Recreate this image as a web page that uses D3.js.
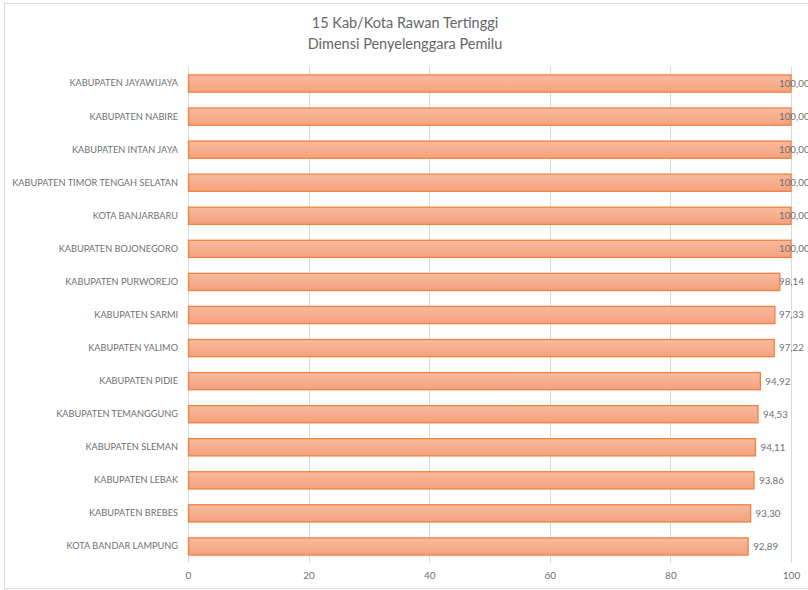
<!DOCTYPE html>
<html>
<head>
<meta charset="utf-8">
<script src="https://cdn.jsdelivr.net/npm/d3@7"></script>
<style>
  body { margin: 0; background: #fff; }
  text { font-family: Lato, "Open Sans", sans-serif; }
</style>
</head>
<body>
<div id="chart"></div>
<script>
// data
var regions = [
  "KABUPATEN JAYAWIJAYA", "KABUPATEN NABIRE", "KABUPATEN INTAN JAYA",
  "KABUPATEN TIMOR TENGAH SELATAN", "KOTA BANJARBARU", "KABUPATEN BOJONEGORO",
  "KABUPATEN PURWOREJO", "KABUPATEN SARMI", "KABUPATEN YALIMO",
  "KABUPATEN PIDIE", "KABUPATEN TEMANGGUNG", "KABUPATEN SLEMAN",
  "KABUPATEN LEBAK", "KABUPATEN BREBES", "KOTA BANDAR LAMPUNG"
];
var scores = [100, 100, 100, 100, 100, 100, 98.14, 97.33, 97.22, 94.92, 94.53, 94.11, 93.86, 93.30, 92.89];
var xTicks = [0, 20, 40, 60, 80, 100];
var titleLines = ["15 Kab/Kota Rawan Tertinggi", "Dimensi Penyelenggara Pemilu"];

var width = 808, height = 590;
var margin = {top: 67, right: 17, bottom: 27, left: 188};
var textGray = "#6f6f6f";

var svg = d3.select("#chart").append("svg")
  .attr("width", width)
  .attr("height", height);

// bar gradient
var grad = svg.append("defs").append("linearGradient")
  .attr("id", "barGrad")
  .attr("x1", 0).attr("y1", 0).attr("x2", 0).attr("y2", 1);
grad.append("stop").attr("offset", "0%").attr("stop-color", "#f9bb9e");
grad.append("stop").attr("offset", "100%").attr("stop-color", "#f3a27f");

// chart border
svg.append("rect")
  .attr("x", 4.5).attr("y", 3.5)
  .attr("width", width + 10).attr("height", height - 5)
  .attr("fill", "none")
  .attr("stroke", "#d9d9d9");

var x = d3.scaleLinear()
  .domain([0, 100])
  .range([margin.left, width - margin.right]);

var y = d3.scaleBand()
  .domain(regions)
  .range([margin.top, height - margin.bottom])
  .paddingInner(0.48)
  .paddingOuter(0.24);

// title
svg.append("text")
  .attr("x", 405)
  .attr("y", 28)
  .attr("text-anchor", "middle")
  .attr("font-size", 14.5)
  .attr("fill", "#666")
  .selectAll("tspan")
  .data(titleLines)
  .enter().append("tspan")
  .attr("x", 405)
  .attr("dy", function(d, i) { return i ? 21 : 0; })
  .text(function(d) { return d; });

// gridlines
svg.append("g")
  .selectAll("line")
  .data(xTicks)
  .enter().append("line")
  .attr("x1", function(d) { return Math.round(x(d)) + 0.5; })
  .attr("x2", function(d) { return Math.round(x(d)) + 0.5; })
  .attr("y1", margin.top)
  .attr("y2", height - margin.bottom)
  .attr("stroke", "#d9d9d9");

// x axis labels
var xAxis = svg.append("g")
  .attr("transform", "translate(0," + (height - margin.bottom) + ")")
  .call(d3.axisBottom(x).tickValues(xTicks).tickSize(0).tickPadding(9));
xAxis.select(".domain").remove();
xAxis.selectAll("text")
  .attr("font-size", 10)
  .attr("fill", textGray)
  .style("font-family", "Lato, 'Open Sans', sans-serif");

// y axis labels
var yAxis = svg.append("g")
  .attr("transform", "translate(" + margin.left + ",0)")
  .call(d3.axisLeft(y).tickSize(0).tickPadding(10));
yAxis.select(".domain").remove();
yAxis.selectAll("text")
  .attr("font-size", 9.2)
  .attr("fill", textGray)
  .style("font-family", "Lato, 'Open Sans', sans-serif");

// bars
svg.append("g")
  .selectAll("rect")
  .data(regions)
  .enter().append("rect")
  .attr("x", x(0) + 0.5)
  .attr("y", function(d) { return y(d); })
  .attr("width", function(d, i) { return x(scores[i]) - x(0) - 0.5; })
  .attr("height", y.bandwidth())
  .attr("fill", "url(#barGrad)")
  .attr("stroke", "#f0813f")
  .attr("stroke-width", 1.3);

// value labels (the 100 ones sit at the chart edge, as in the original)
svg.append("g")
  .selectAll("text")
  .data(regions)
  .enter().append("text")
  .attr("x", function(d, i) { return Math.min(x(scores[i]) + 5, 779); })
  .attr("y", function(d) { return y(d) + y.bandwidth() / 2; })
  .attr("dy", "0.35em")
  .attr("font-size", 9.8)
  .attr("fill", textGray)
  .text(function(d, i) { return scores[i].toFixed(2).replace(".", ","); });
</script>
</body>
</html>
